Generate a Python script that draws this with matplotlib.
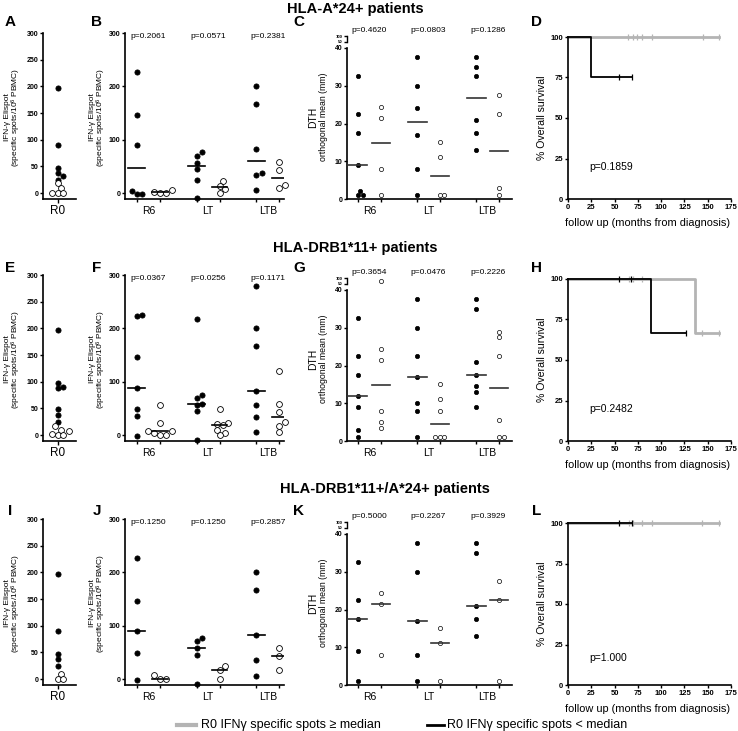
import numpy as np
import matplotlib
matplotlib.use('Agg')
import matplotlib.pyplot as plt
from matplotlib.lines import Line2D

plt.rcParams['font.family'] = ['Liberation Sans', 'DejaVu Sans']
plt.rcParams['mathtext.fontset'] = 'custom'
plt.rcParams['mathtext.rm'] = 'Liberation Sans'
plt.rcParams['mathtext.it'] = 'Liberation Sans:italic'

W, H = 738, 731
fig = plt.figure(figsize=(W / 100, H / 100), dpi=100)

# ---------------- data ----------------
categories = ['R6', 'LT', 'LTB']
row_titles = ['HLA-A*24+ patients', 'HLA-DRB1*11+ patients', 'HLA-DRB1*11+/A*24+ patients']
panel_letters = [['A', 'B', 'C', 'D'], ['E', 'F', 'G', 'H'], ['I', 'J', 'K', 'L']]
r0_label = 'R0'

# R0 IFN-g Elispot (specific spots/10^6 PBMC)
A_hi = [196, 90, 47, 37, 31, 24]
A_lo = [18, 9, 0, 0, 0]
E_hi = [196, 98, 90, 88, 48, 37, 24]
E_lo = [17, 9, 8, 1, 0, 0]
I_hi = [197, 90, 47, 37, 24]
I_lo = [9, 0, 0]

# Elispot per time point (R6, LT, LTB)
B_hi = [[226, 147, 90, 3, -2, -2], [76, 70, 56, 45, 25, -9], [201, 166, 82, 38, 34, 5]]
B_lo = [[5, 2, 0, 0], [23, 14, 7, 0], [58, 43, 15, 9]]
B_p = ['p=0.2061', 'p=0.0571', 'p=0.2381']
F_hi = [[225, 224, 147, 88, 48, 36, -1], [218, 75, 70, 58, 56, 45, -10], [279, 201, 166, 82, 56, 34, 5]]
F_lo = [[56, 23, 8, 7, 3, 0, 0], [49, 22, 21, 18, 10, 4, 0], [120, 58, 43, 24, 16, 5]]
F_p = ['p=0.0367', 'p=0.0256', 'p=0.1171']
J_hi = [[226, 147, 90, 48, -2], [76, 71, 58, 45, -9], [201, 166, 82, 35, 6]]
J_lo = [[7, 0, 0], [24, 16, 0], [59, 44, 16]]
J_p = ['p=0.1250', 'p=0.1250', 'p=0.2857']

# DTH orthogonal mean (mm) per time point (R6, LT, LTB)
C_hi = [[32.5, 22.5, 17.5, 9, 2, 1, 1], [37.5, 30, 24, 17, 8, 1], [37.5, 35, 32.5, 21, 17.5, 13]]
C_lo = [[24.5, 21.5, 8, 1], [15, 11, 1, 1], [27.5, 22.5, 3, 1]]
C_p = ['p=0.4620', 'p=0.0803', 'p=0.1286']
G_hi = [[32.5, 22.5, 17.5, 12, 9, 3, 1], [37.5, 30, 22.5, 17, 10, 8, 1], [37.5, 35, 21, 17.5, 14.5, 13, 9]]
G_lo = [[75, 24.5, 21.5, 8, 5, 3.5], [15, 11, 8, 1, 1, 1], [29, 27.5, 22.5, 5.5, 1, 1]]
G_p = ['p=0.3654', 'p=0.0476', 'p=0.2226']
K_hi = [[32.5, 22.5, 17.5, 9, 1], [37.5, 30, 17, 8, 1], [37.5, 35, 21, 17.5, 13]]
K_lo = [[24.5, 21.5, 8], [15, 11, 1], [27.5, 22.5, 1]]
K_p = ['p=0.5000', 'p=0.2267', 'p=0.3929']

# Kaplan-Meier steps (months, % survival) and censored times
D_hi_t = [0, 162]; D_hi_s = [100, 100]; D_hi_c = [64.5, 70, 74, 79.5, 90, 144.5, 162]
D_lo_t = [0, 24.7, 68.5]; D_lo_s = [100, 75, 75]; D_lo_c = [55, 68.5]
D_p = 'p=0.1859'
H_hi_t = [0, 136.3, 162]; H_hi_s = [100, 66.7, 66.7]; H_hi_c = [66, 70, 79.5, 144, 162]
H_lo_t = [0, 88.8, 126.3]; H_lo_s = [100, 66.7, 66.7]; H_lo_c = [54.7, 67.5, 126.3]
H_p = 'p=0.2482'
L_hi_t = [0, 162]; L_hi_s = [100, 100]; L_hi_c = [66, 70, 79.5, 90, 144, 162]
L_lo_t = [0, 68.5]; L_lo_s = [100, 100]; L_lo_c = [54.7, 68.5]
L_p = 'p=1.000'

legend_labels = ['R0 IFNγ specific spots ≥ median', 'R0 IFNγ specific spots < median']

GRAY = '#b4b4b4'


# ---------------- helpers ----------------
def px_axes(left, right, top, bottom):
    return fig.add_axes([left / W, (H - bottom) / H, (right - left) / W, (bottom - top) / H])


def ftext(x, y, s, **kw):
    return fig.text(x / W, 1 - y / H, s, **kw)


def base_style(ax):
    ax.spines['top'].set_visible(False)
    ax.spines['right'].set_visible(False)
    ax.spines['left'].set_linewidth(1.2)
    ax.spines['bottom'].set_linewidth(1.2)
    ax.tick_params(axis='both', direction='out', length=2.5, width=1.0, pad=1, labelsize=5)
    ax.patch.set_alpha(0)


def set_yt(ax, ticks, size=5):
    ax.set_yticks(ticks)
    ax.set_yticklabels([str(t) for t in ticks], fontsize=size, fontweight='bold')


def swarm_offsets(ypx, d):
    order = np.argsort(ypx, kind='stable')
    placed = []
    offs = np.zeros(len(ypx))
    cands = [0.0]
    for k in range(1, 20):
        cands += [k * d / 2, -k * d / 2]
    for i in order:
        y = ypx[i]
        for c in cands:
            if all((c - px) ** 2 + (y - py) ** 2 >= (0.92 * d) ** 2 for px, py in placed):
                offs[i] = c
                placed.append((c, y))
                break
    return offs


def plot_swarm(ax, xc, vals, d, **kw):
    vals = np.asarray(vals, float)
    if len(vals) == 0:
        return
    T = ax.transData
    pts = T.transform(np.column_stack([np.full(len(vals), xc, float), vals]))
    offs = swarm_offsets(pts[:, 1], d)
    xs = T.inverted().transform(np.column_stack([pts[:, 0] + offs, pts[:, 1]]))[:, 0]
    ax.plot(xs, vals, ls='none', clip_on=False, zorder=3, **kw)


FILLED = dict(marker='o', ms=3.7, mfc='black', mec='black', mew=0.6)
OPEN = dict(marker='o', ms=4.2, mfc='white', mec='black', mew=0.6)
FILLED_S = dict(marker='o', ms=3.1, mfc='black', mec='black', mew=0.5)
OPEN_S = dict(marker='o', ms=3.0, mfc='white', mec='black', mew=0.5)


def r0_panel(bottom, hi, lo):
    ax = px_axes(43, 76, bottom - 166, bottom)
    ax.set_xlim(-0.9, 1.1)
    ax.set_ylim(-11.25, 300)
    base_style(ax)
    set_yt(ax, [0, 50, 100, 150, 200, 250, 300])
    ax.set_xticks([0])
    ax.set_xticklabels([r0_label], fontsize=8.5)
    ax.tick_params(axis='x', length=3, pad=1.5)
    plot_swarm(ax, 0, hi, 5.6, **FILLED)
    plot_swarm(ax, 0, lo, 5.6, **OPEN)


def pair_axes_setup(ax, xlim):
    ax.set_xlim(*xlim)
    cols, centers = [], []
    for i in range(len(categories)):
        cols += [2.6 * i, 2.6 * i + 1]
        centers.append(2.6 * i + 0.5)
    ax.set_xticks(cols)
    ax.set_xticklabels([])
    ax.set_xticks(centers, minor=True)
    ax.set_xticklabels(categories, minor=True, fontsize=7.5)
    ax.tick_params(axis='x', which='major', length=2.5)
    ax.tick_params(axis='x', which='minor', length=0, pad=5)


def elispot_panel(bottom, hi, lo):
    ax = px_axes(125, 284, bottom - 166, bottom)
    ax.set_ylim(-11.25, 300)
    base_style(ax)
    pair_axes_setup(ax, (-0.52, 6.4))
    set_yt(ax, [0, 100, 200, 300])
    for i in range(len(categories)):
        xh = 2.6 * i
        xl = xh + 1
        plot_swarm(ax, xh, hi[i], 5.2, **FILLED)
        plot_swarm(ax, xl, lo[i], 5.8, **OPEN)
        ax.plot([xh - 0.37, xh + 0.37], [np.median(hi[i])] * 2, color='black', lw=1.2, zorder=4)
        ax.plot([xl - 0.33, xl + 0.33], [np.median(lo[i])] * 2, color='black', lw=1.2, zorder=4)
    return ax


def dth_panel(bottom, hi, lo):
    xlim = (-0.48, 6.77)
    ax = px_axes(347, 512, bottom - 151, bottom)
    ax.set_ylim(0, 40)
    base_style(ax)
    pair_axes_setup(ax, xlim)
    set_yt(ax, [0, 10, 20, 30, 40])
    axu = px_axes(347, 512, bottom - 163, bottom - 157.5)
    axu.set_ylim(50, 100)
    axu.set_xlim(*xlim)
    base_style(axu)
    axu.spines['bottom'].set_visible(False)
    axu.spines['left'].set_linewidth(1.0)
    axu.set_xticks([])
    set_yt(axu, [50, 100], size=3.1)
    axu.tick_params(axis='y', length=2, pad=1)
    for i in range(len(categories)):
        xh = 2.6 * i
        xl = xh + 1
        for x, vals, st, half in ((xh, hi[i], FILLED_S, 0.42), (xl, lo[i], OPEN_S, 0.40)):
            v = np.asarray(vals, float)
            plot_swarm(ax, x, v[v <= 40], 4.6, **st)
            plot_swarm(axu, x, v[v > 40], 4.6, **st)
            ax.plot([x - half, x + half], [np.median(v)] * 2, color='#333333', lw=1.2, zorder=4)
    return ax


def surv_at(t, s, c):
    t = np.asarray(t, float)
    s = np.asarray(s, float)
    idx = np.searchsorted(t, np.asarray(c, float), side='right') - 1
    idx = np.clip(idx, 0, len(s) - 1)
    return s[idx]


def km_panel(bottom, hi_t, hi_s, hi_c, lo_t, lo_s, lo_c, p, py):
    ax = px_axes(568, 731, bottom - 162, bottom)
    ax.set_xlim(0, 175)
    ax.set_ylim(0, 100)
    base_style(ax)
    ax.set_xticks(range(0, 176, 25))
    ax.set_xticklabels([str(v) for v in range(0, 176, 25)], fontsize=5.5, fontweight='bold')
    set_yt(ax, [0, 25, 50, 75, 100], size=5.5)
    ax.step(hi_t, hi_s, where='post', color=GRAY, lw=2.0, clip_on=False, zorder=2)
    ax.plot(hi_c, surv_at(hi_t, hi_s, hi_c), ls='none', marker='|', color=GRAY, ms=4, mew=0.9,
            clip_on=False, zorder=2)
    ax.step(lo_t, lo_s, where='post', color='black', lw=1.3, clip_on=False, zorder=3)
    ax.plot(lo_c, surv_at(lo_t, lo_s, lo_c), ls='none', marker='|', color='black', ms=4, mew=0.9,
            clip_on=False, zorder=3)
    ax.text(23, py, p, fontsize=7.5, va='center', ha='left')
    return ax


# ---------------- layout ----------------
bottoms = [199, 441, 685]
title_pos = [(287, 9), (273, 248), (280, 489)]
letter_y = [22, 268, 511]
letter_x = [10, 97, 299, 537]

r0_sets = [(A_hi, A_lo), (E_hi, E_lo), (I_hi, I_lo)]
eli_sets = [(B_hi, B_lo, B_p), (F_hi, F_lo, F_p), (J_hi, J_lo, J_p)]
dth_sets = [(C_hi, C_lo, C_p), (G_hi, G_lo, G_p), (K_hi, K_lo, K_p)]
km_sets = [(D_hi_t, D_hi_s, D_hi_c, D_lo_t, D_lo_s, D_lo_c, D_p, 20),
           (H_hi_t, H_hi_s, H_hi_c, H_lo_t, H_lo_s, H_lo_c, H_p, 20),
           (L_hi_t, L_hi_s, L_hi_c, L_lo_t, L_lo_s, L_lo_c, L_p, 16.5)]

for r in range(3):
    b = bottoms[r]
    r0_panel(b, *r0_sets[r])
    axB = elispot_panel(b, eli_sets[r][0], eli_sets[r][1])
    axC = dth_panel(b, dth_sets[r][0], dth_sets[r][1])
    km_panel(b, *km_sets[r])

    # p-values
    for i in range(3):
        xc = 2.6 * i + 0.5
        xpix = axB.transData.transform((xc, 0))[0]
        ftext(xpix, b - 163, eli_sets[r][2][i], fontsize=6, ha='center', va='center')
        xpix = axC.transData.transform((xc, 0))[0]
        ftext(xpix, b - 169, dth_sets[r][2][i], fontsize=6, ha='center', va='center')

    # axis labels
    ftext(7.5, b - 82, 'IFN-γ Elispot', rotation=90, fontsize=6, ha='center', va='center')
    ftext(16.5, b - 82, '(specific spots/10$^{6}$ PBMC)', rotation=90, fontsize=6, ha='center', va='center')
    ftext(92.5, b - 82, 'IFN-γ Elispot', rotation=90, fontsize=6, ha='center', va='center')
    ftext(101.5, b - 82, '(specific spots/10$^{6}$ PBMC)', rotation=90, fontsize=6, ha='center', va='center')
    ftext(313, b - 82, 'DTH', rotation=90, fontsize=7.5, ha='center', va='center')
    ftext(324, b - 82, 'orthogonal mean (mm)', rotation=90, fontsize=6.3, ha='center', va='center')
    ftext(542, b - 81, '% Overall survival', rotation=90, fontsize=7.6, ha='center', va='center')
    ftext(648, b + 24, 'follow up (months from diagnosis)', fontsize=7.9, ha='center', va='center')

    # titles and letters
    ftext(title_pos[r][0], title_pos[r][1], row_titles[r], fontsize=10.5, fontweight='bold',
          ha='left', va='center')
    for k in range(4):
        ftext(letter_x[k], letter_y[r], panel_letters[r][k], fontsize=11, fontweight='bold',
              ha='center', va='center')

# legend
ly = 1 - 725 / H
fig.add_artist(Line2D([177 / W, 196 / W], [ly, ly], color=GRAY, lw=3))
ftext(201, 725, legend_labels[0], fontsize=9, va='center', ha='left')
fig.add_artist(Line2D([427 / W, 444 / W], [ly, ly], color='black', lw=2))
ftext(447, 725, legend_labels[1], fontsize=9, va='center', ha='left')

fig.savefig('out.png', dpi=100)
